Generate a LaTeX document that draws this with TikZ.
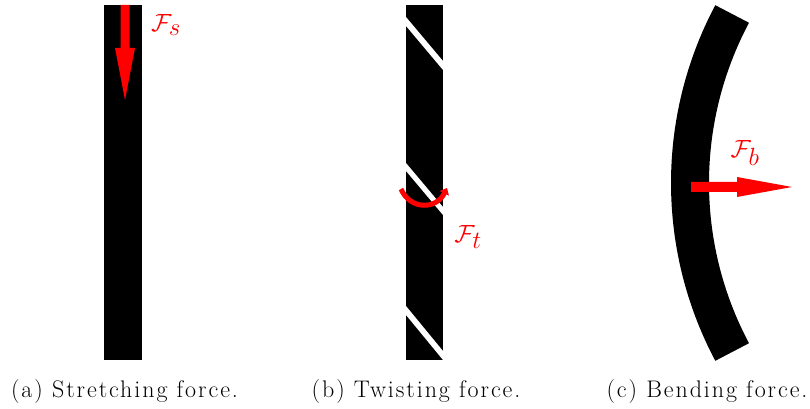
\documentclass[tikz,border=0pt]{standalone}
\usepackage{fontspec}
\setmainfont{Latin Modern Roman}
\usetikzlibrary{arrows.meta}
\begin{document}
\begin{tikzpicture}[x=1pt,y=1pt,
  rod/.style={fill=black},
  stripe/.style={fill=white},
  force/.style={fill=red},
  flabel/.style={text=red,font=\fontsize{35}{40}\selectfont},
  caption/.style={anchor=base,font=\fontsize{24}{28}\selectfont\addfontfeatures{LetterSpace=8}}]
\useasboundingbox (0,0) rectangle (810,409);
% (a) stretching
\fill[rod] (104,404) rectangle (141.5,49);
\fill[force] (120.5,404) -- (129.5,404) -- (129.5,361) -- (135,361) -- (125,309) -- (115,361) -- (120.5,361) -- cycle;
\node[flabel] (Fs) at (166,384) {$\mathcal{F}_s$};
% (b) twisting
\fill[rod] (406,404) rectangle (443,49);
\fill[stripe] (406,392) -- (443,348) -- (443,339) -- (406,383) -- cycle;
\fill[stripe] (406,246) -- (443,202) -- (443,194) -- (406,238) -- cycle;
\fill[stripe] (406,103) -- (443,58) -- (443,49) -- (406,94) -- cycle;
\draw[red,line width=5pt,-{Triangle[length=6pt,width=10pt]}] (401,220) .. controls (410,199) and (436,199) .. (447,221);
\node[flabel] (Ft) at (468,172) {$\mathcal{F}_t$};
% (c) bending
\draw[line width=38pt] (1050,226) ++(152:360) arc[start angle=152,end angle=208,radius=360];
\fill[force] (691,227) -- (737,227) -- (737,232) -- (792,222) -- (737,212) -- (737,217) -- (691,217) -- cycle;
\node[flabel] (Fb) at (745,256) {$\mathcal{F}_b$};
% captions
\node[caption] (ca) at (124.5,11) {(a) Stretching force.};
\node[caption] (cb) at (416,11) {(b) Twisting force.};
\node[caption] (cc) at (707,11) {(c) Bending force.};
\end{tikzpicture}
\end{document}
